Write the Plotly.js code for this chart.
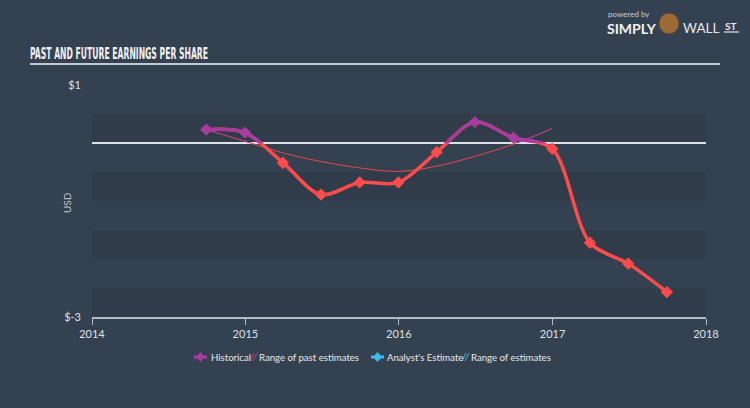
<!DOCTYPE html>
<html>
<head>
<meta charset="utf-8">
<script src="https://cdn.plot.ly/plotly-3.0.1.min.js"></script>
<style>html,body{margin:0;padding:0;background:#344150;}#chart{width:750px;height:408px;}</style>
</head>
<body>
<div id="chart"></div>
<script>
// ---- data ----
const histDates = ["2014-09-30","2014-12-31","2015-03-31","2015-06-30","2015-09-30","2015-12-31","2016-03-31","2016-06-30","2016-09-30","2016-12-31","2017-03-31","2017-06-30","2017-09-30"];
const histEPS   = [0.23, 0.18, -0.34, -0.89, -0.68, -0.68, -0.16, 0.36, 0.09, -0.10, -1.72, -2.08, -2.57];
const pastEstDates = ["2014-09-30","2014-12-31","2015-03-31","2015-06-30","2015-09-30","2015-12-31","2016-03-31","2016-06-30","2016-09-30","2016-12-31"];
const pastEstEPS   = [0.23, 0.03, -0.17, -0.32, -0.43, -0.49, -0.40, -0.23, -0.02, 0.25];
const yearTicks = ["2014-01-01","2015-01-01","2016-01-01","2017-01-01","2018-01-01"];
const yearLabels = ["2014","2015","2016","2017","2018"];
const yTickVals = [1, -3];
const yTickText = ["$1", "$-3"];
const legendLabels = ["Historical", "Range of past estimates", "Analyst's Estimate", "Range of estimates"];
const titleText = "PAST AND FUTURE EARNINGS PER SHARE";

// ---- styles ----
const RED = "#ff4b4b", PURPLE = "#a83c9e", CYAN = "#38bdec";
const W = 750, H = 408, L = 92, R = 44, T = 85, B = 91;
const PW = W - L - R, PH = H - T - B;
const px = x => (x - L) / PW;
const py = y => (H - B - y) / PH;

const traces = [
  {x: pastEstDates, y: pastEstEPS, xaxis:"x", yaxis:"y", mode:"lines", line:{color:"rgba(240,72,72,0.95)", width:1, shape:"spline"}, hoverinfo:"skip"},
  {x: histDates, y: histEPS, xaxis:"x", yaxis:"y", mode:"lines", line:{color:RED, width:3.5, shape:"spline", smoothing:0.9}, hoverinfo:"skip"},
  {x: histDates, y: histEPS, xaxis:"x", yaxis:"y", mode:"markers",
   marker:{symbol:"diamond", size:9.5, color: histEPS.map(v => v > 0 ? PURPLE : RED)}, hoverinfo:"skip"},
  {x: pastEstDates, y: pastEstEPS, xaxis:"x", yaxis:"y2", mode:"lines", line:{color:"rgba(165,55,155,0.95)", width:1, shape:"spline"}, hoverinfo:"skip"},
  {x: histDates, y: histEPS, xaxis:"x", yaxis:"y2", mode:"lines", line:{color:PURPLE, width:3.5, shape:"spline", smoothing:0.9}, hoverinfo:"skip"}
];

const bands = [[0,0.5],[-1,-0.5],[-2,-1.5],[-3,-2.5]].map(b => ({
  type:"rect", xref:"paper", yref:"y", x0:0, x1:1, y0:b[0], y1:b[1],
  fillcolor:"#303c4a", line:{width:0}, layer:"below"
}));

const shapes = bands.concat([
  // title underline
  {type:"line", xref:"paper", yref:"paper", x0:px(30), x1:px(720), y0:py(64), y1:py(64), line:{color:"#c3cad2", width:2}},
  // legend markers
  {type:"line", xref:"paper", yref:"paper", x0:px(194), x1:px(207), y0:py(357), y1:py(357), line:{color:PURPLE, width:3}},
  {type:"path", xref:"paper", yref:"paper", path:`M${px(200.5)},${py(352)} L${px(205)},${py(357)} L${px(200.5)},${py(362)} L${px(196)},${py(357)} Z`, fillcolor:PURPLE, line:{width:0}},
  {type:"line", xref:"paper", yref:"paper", x0:px(371), x1:px(384), y0:py(357), y1:py(357), line:{color:CYAN, width:3}},
  {type:"path", xref:"paper", yref:"paper", path:`M${px(377.5)},${py(352)} L${px(382)},${py(357)} L${px(377.5)},${py(362)} L${px(373)},${py(357)} Z`, fillcolor:CYAN, line:{width:0}},
  // hatches
  {type:"line", xref:"paper", yref:"paper", x0:px(250), x1:px(254), y0:py(361), y1:py(353), line:{color:PURPLE, width:1}},
  {type:"line", xref:"paper", yref:"paper", x0:px(253), x1:px(257), y0:py(361), y1:py(353), line:{color:PURPLE, width:1}},
  {type:"line", xref:"paper", yref:"paper", x0:px(462), x1:px(466), y0:py(361), y1:py(353), line:{color:CYAN, width:1}},
  {type:"line", xref:"paper", yref:"paper", x0:px(465), x1:px(469), y0:py(361), y1:py(353), line:{color:CYAN, width:1}},
  // logo
  {type:"circle", xref:"paper", yref:"paper", x0:px(659), x1:px(679), y0:py(13), y1:py(34), fillcolor:"#9c6b35", line:{color:"#5a4a3a", width:1}},
  {type:"line", xref:"paper", yref:"paper", x0:px(724), x1:px(739), y0:py(32), y1:py(32), line:{color:"#e8e8e8", width:1.2}}
]);

const LF = "Lato, 'Open Sans', sans-serif";
const ann = (text, x, y, size, color, opts) => Object.assign({
  text, xref:"paper", yref:"paper", x:px(x), y:py(y), xanchor:"left", yanchor:"middle",
  showarrow:false, font:{family:LF, size, color}
}, opts || {});

const annotations = [
  ann(legendLabels[0], 209, 357, 9.6, "#e6e8ea"),
  ann(legendLabels[1], 257, 357, 9.6, "#e6e8ea"),
  ann(legendLabels[2], 385, 357, 9.6, "#e6e8ea"),
  ann(legendLabels[3], 469, 357, 9.6, "#e6e8ea"),
  ann("USD", 67, 203, 10, "#c5cbd1", {xanchor:"center", textangle:-90}),
  ann("powered by", 606, 14, 8, "#c8ccd0"),
  ann("<b>SIMPLY</b>", 605, 28, 14, "#f2f2f2"),
  ann("WALL", 681, 28, 13.5, "#e8e8e8"),
  ann("<b>ST</b>", 723, 26, 10, "#e8e8e8")
];

const layout = {
  width: W, height: H,
  margin: {l:L, r:R, t:T, b:B, pad:0},
  paper_bgcolor: "#344150",
  plot_bgcolor: "rgba(0,0,0,0)",
  showlegend: false,
  title: {text: "<b>" + titleText + "</b>", x: 30/W, xanchor:"left", xref:"container", y: 1 - 53/H, yanchor:"middle", yref:"container",
          font:{family:"'DejaVu Sans Condensed', 'DejaVu Sans', sans-serif", size:16, color:"#f2f2f2"}},
  xaxis: {type:"date", range:["2014-01-01","2018-01-01"], tickvals:yearTicks, ticktext:yearLabels,
          showgrid:false, zeroline:false, showline:true, linecolor:"#b3bbc3", linewidth:1.5,
          ticks:"outside", ticklen:6, tickwidth:1, tickcolor:"#b3bbc3",
          tickfont:{family:LF, size:11, color:"#dfe2e5"}, anchor:"y", fixedrange:true},
  yaxis: {range:[-3, 1], domain:[0,1], tickvals:yTickVals, ticktext:yTickText, showgrid:false,
          zeroline:true, zerolinecolor:"#dde2e7", zerolinewidth:1.5, showline:false, ticks:"",
          ticklabelstandoff:10, tickfont:{family:LF, size:11, color:"#dfe2e5"}, fixedrange:true},
  yaxis2: {range:[0, 1], domain:[0.75, 1], anchor:"x", visible:false, showgrid:false, zeroline:false, fixedrange:true},
  shapes, annotations
};

Plotly.newPlot("chart", traces, layout, {staticPlot:true, displayModeBar:false}).then(gd => {
  const t = gd.querySelector(".gtitle");
  if (t) { t.setAttribute("textLength", "178"); t.setAttribute("lengthAdjust", "spacingAndGlyphs"); }
});
</script>
</body>
</html>
